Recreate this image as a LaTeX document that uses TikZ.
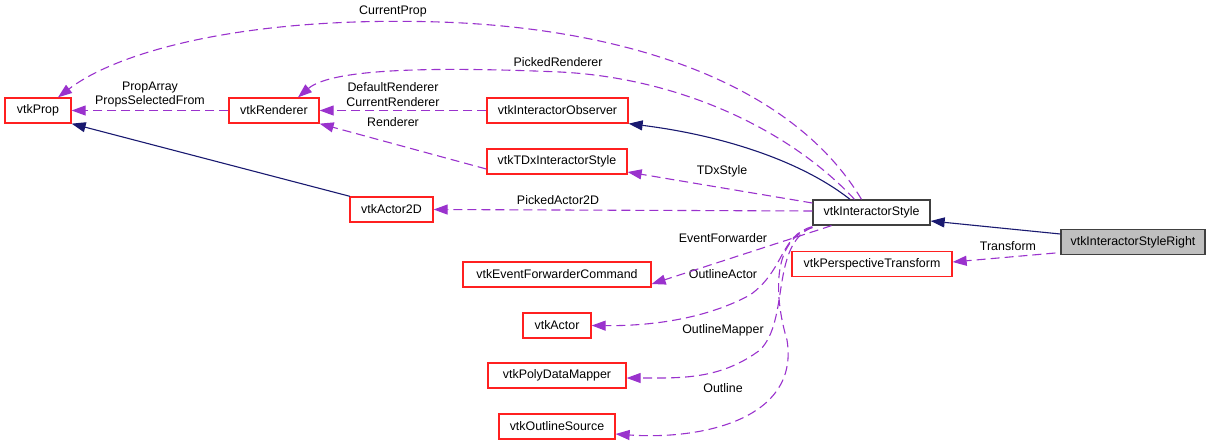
\documentclass[tikz,border=0pt]{standalone}
\usepackage{fontspec}
\setmainfont{Liberation Sans}
\usetikzlibrary{arrows.meta}
\definecolor{edgep}{HTML}{9A32CD}
\definecolor{edgen}{HTML}{191970}
\definecolor{boxred}{HTML}{FF2020}
\begin{document}
\begin{tikzpicture}[x=1pt,y=-1pt,
  txt/.style={font=\fontsize{12.4}{14.5}\selectfont},
  cls/.style={txt, draw=boxred, line width=1.3pt, fill=white, inner sep=0pt, minimum height=25pt},
  lbl/.style={txt, inner sep=0pt, align=center},
  inh/.style={draw=edgen, line width=1.1pt, -{Triangle[length=14pt,width=10pt]}},
  use/.style={draw=edgep, line width=1.1pt, dash pattern=on 9pt off 5pt, -{Triangle[length=14pt,width=10pt]}}]
\useasboundingbox (0,0) rectangle (1211,445);
% nodes
\node[cls, minimum width=66pt] (prop) at (38,110.5) {vtkProp};
\node[cls, minimum width=90pt] (renderer) at (274,110.5) {vtkRenderer};
\node[cls, minimum width=141pt] (observer) at (557.5,110.5) {vtkInteractorObserver};
\node[cls, minimum width=140pt] (tdx) at (557,161.5) {vtkTDxInteractorStyle};
\node[cls, minimum width=83pt] (actor2d) at (391.5,209.5) {vtkActor2D};
\node[cls, minimum width=117pt, draw=black!75] (is) at (871.5,212.5) {vtkInteractorStyle};
\node[cls, minimum width=144pt, draw=black!75, fill=black!25] (isr) at (1133,242) {vtkInteractorStyleRight};
\node[cls, minimum width=160pt] (persp) at (872,264) {vtkPerspectiveTransform};
\node[cls, minimum width=188pt] (evf) at (557,274.5) {vtkEventForwarderCommand};
\node[cls, minimum width=68pt] (actor) at (557,325.5) {vtkActor};
\node[cls, minimum width=138pt] (pdm) at (557,375.5) {vtkPolyDataMapper};
\node[cls, minimum width=116pt] (outl) at (557,426.5) {vtkOutlineSource};
% labels
\node[lbl] (lcp) at (393,11) {CurrentProp};
\node[lbl] (lpr) at (558,62) {PickedRenderer};
\node[lbl] (ldr) at (393,94.5) {DefaultRenderer\\CurrentRenderer};
\node[lbl] (lpa) at (150,94.5) {PropArray\\PropsSelectedFrom};
\node[lbl] (lr) at (393,122) {Renderer};
\node[lbl] (ltdx) at (722,171) {TDxStyle};
\node[lbl] (lpa2) at (558,200) {PickedActor2D};
\node[lbl] (lef) at (723,238) {EventForwarder};
\node[lbl] (lt) at (1008,246) {Transform};
\node[lbl] (loa) at (723,274) {OutlineActor};
\node[lbl] (lom) at (723,330) {OutlineMapper};
\node[lbl] (lo) at (723,388) {Outline};
% inheritance
\draw[inh] ([yshift=8pt]isr.west) -- ([yshift=-8.5pt]is.east);
\draw[inh] ([xshift=-21.5pt]is.north) .. controls (800,160) and (720,135) .. (observer.south east);
\draw[inh] ([xshift=-41.5pt]actor2d.north) -- (prop.south east);
% usage
\draw[use] ([xshift=-5pt,yshift=-11pt]isr.west) -- ([yshift=2pt]persp.east);
\draw[use] ([xshift=-10pt]is.north) .. controls (790,80) and (620,28) .. (440,22)
  .. controls (250,16) and (120,50) .. ([xshift=20pt]prop.north);
\draw[use] ([xshift=-17pt]is.north) .. controls (790,130) and (680,78) .. (560,72)
  .. controls (420,66) and (330,70) .. ([xshift=24pt]renderer.north);
\draw[use] (observer.west) -- (renderer.east);
\draw[use] ([yshift=-7.5pt]tdx.west) -- (renderer.south east);
\draw[use] (renderer.west) -- (prop.east);
\draw[use] ([yshift=9.5pt]is.west) -- ([yshift=-10.5pt]tdx.east);
\draw[use] ([yshift=1.5pt]is.west) -- (actor2d.east);
\draw[use] ([xshift=-40pt]is.south) -- ([yshift=-9.5pt]evf.east);
\draw[use] ([yshift=-1pt]is.south west) .. controls (780,235) and (785,270) .. (750,295)
  .. controls (700,322) and (640,326) .. (actor.east);
\draw[use] ([yshift=-1.5pt]is.south west) .. controls (770,245) and (790,320) .. (760,350)
  .. controls (720,380) and (680,378) .. ([yshift=-2.5pt]pdm.east);
\draw[use] ([yshift=-2pt]is.south west) .. controls (770,240) and (775,300) .. (787,340)
  .. controls (800,420) and (700,440) .. ([yshift=-7.5pt]outl.east);
\end{tikzpicture}
\end{document}
